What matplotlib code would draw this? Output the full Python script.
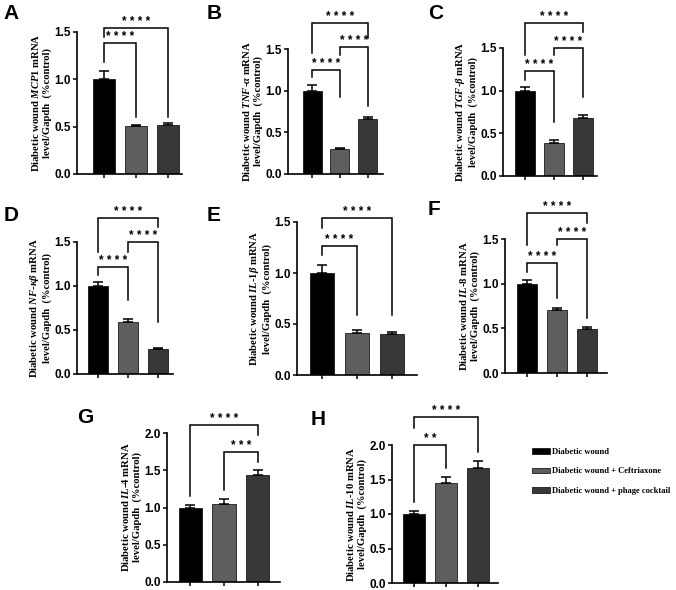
import matplotlib
matplotlib.use("Agg")
import matplotlib.pyplot as plt

# ─────────────────────────────────────────────
# Fuentes (Times bold para textos, Arial bold para numeros)
# ─────────────────────────────────────────────
plt.rcParams['font.family'] = 'Liberation Serif'
plt.rcParams['font.weight'] = 'bold'
plt.rcParams['axes.labelweight'] = 'bold'
plt.rcParams['mathtext.fontset'] = 'custom'
plt.rcParams['mathtext.rm'] = 'Liberation Serif:bold'
plt.rcParams['mathtext.it'] = 'Liberation Serif:italic:bold'
plt.rcParams['mathtext.bf'] = 'Liberation Serif:bold'

# ─────────────────────────────────────────────
# Datos
# ─────────────────────────────────────────────
grupos = ["Diabetic wound", "Diabetic wound + Ceftriaxone", "Diabetic wound + phage cocktail"]
colores = ["#000000", "#5e5e5e", "#383838"]

mcp1 = [1.00, 0.51, 0.52]
mcp1_err = [0.09, 0.01, 0.02]
tnf = [1.00, 0.30, 0.66]
tnf_err = [0.07, 0.01, 0.03]
tgf = [1.00, 0.39, 0.68]
tgf_err = [0.04, 0.03, 0.04]
nfkb = [1.00, 0.59, 0.28]
nfkb_err = [0.04, 0.03, 0.01]
il1b = [1.00, 0.41, 0.40]
il1b_err = [0.08, 0.03, 0.02]
il8 = [1.00, 0.71, 0.49]
il8_err = [0.04, 0.02, 0.02]
il4 = [1.00, 1.05, 1.44]
il4_err = [0.04, 0.06, 0.06]
il10 = [1.00, 1.45, 1.67]
il10_err = [0.05, 0.09, 0.10]

ticks_15 = [0.0, 0.5, 1.0, 1.5]
ticks_20 = [0.0, 0.5, 1.0, 1.5, 2.0]

# comparaciones: (barra i, barra j, altura, pie i, pie j, estrellas)
sig_mcp1 = [(0, 2, 1.54, 1.45, 0.60, "****"), (0, 1, 1.38, 1.18, 0.60, "****")]
sig_tnf = [(0, 2, 1.81, 1.45, 1.63, "****"), (1, 2, 1.52, 1.43, 0.82, "****"),
           (0, 1, 1.25, 1.17, 0.93, "****")]
sig_tgf = [(0, 2, 1.79, 1.42, 1.69, "****"), (1, 2, 1.50, 1.42, 0.93, "****"),
           (0, 1, 1.23, 1.13, 0.63, "****")]
sig_nfkb = [(0, 2, 1.77, 1.39, 1.67, "****"), (1, 2, 1.50, 1.39, 0.59, "****"),
            (0, 1, 1.22, 1.13, 0.84, "****")]
sig_il1b = [(0, 2, 1.54, 1.44, 0.59, "****"), (0, 1, 1.26, 1.18, 0.59, "****")]
sig_il8 = [(0, 2, 1.79, 1.43, 1.68, "****"), (1, 2, 1.50, 1.43, 0.62, "****"),
           (0, 1, 1.23, 1.13, 0.84, "****")]
sig_il4 = [(0, 2, 2.11, 1.15, 1.97, "****"), (1, 2, 1.75, 1.23, 1.61, "***")]
sig_il10 = [(0, 2, 2.41, 2.25, 1.90, "****"), (0, 1, 2.00, 1.17, 1.67, "**")]

etiquetas = {
    "A": "Diabetic wound $\\mathit{MCP1}$ mRNA\nlevel/Gapdh  (%control)",
    "B": "Diabetic wound $\\mathit{TNF}$-$\\mathit{\u03b1}$ mRNA\nlevel/Gapdh  (%control)",
    "C": "Diabetic wound $\\mathit{TGF}$-$\\mathit{\u03b2}$ mRNA\nlevel/Gapdh  (%control)",
    "D": "Diabetic wound $\\mathit{NF}$-$\\mathit{\u03ba\u03b2}$ mRNA\nlevel/Gapdh  (%control)",
    "E": "Diabetic wound $\\mathit{IL}$-$\\mathit{1\u03b2}$ mRNA\nlevel/Gapdh  (%control)",
    "F": "Diabetic wound $\\mathit{IL}$-$\\mathit{8}$ mRNA\nlevel/Gapdh  (%control)",
    "G": "Diabetic wound $\\mathit{IL}$-$\\mathit{4}$ mRNA\nlevel/Gapdh  (%control)",
    "H": "Diabetic wound $\\mathit{IL}$-$\\mathit{10}$ mRNA\nlevel/Gapdh  (%control)",
}

# ─────────────────────────────────────────────
# Layout en pixeles (izq, der, arriba, abajo), xlim, letra
# ─────────────────────────────────────────────
W, H = 676, 590
cajas = {
    "A": ((77, 182, 32, 174), (-0.84, 2.44), (3, 4)),
    "B": ((288, 383, 49, 174), (-0.86, 2.54), (207, 4)),
    "C": ((503, 597, 48, 176), (-0.76, 2.48), (428, 4)),
    "D": ((77, 173, 242, 374), (-0.70, 2.50), (4, 206)),
    "E": ((297, 417, 222, 375), (-0.71, 2.71), (207, 206)),
    "F": ((505, 607, 239, 373), (-0.73, 2.67), (428, 200)),
    "G": ((167, 280, 433, 582), (-0.68, 2.65), (77, 408)),
    "H": ((392, 498, 445, 583), (-0.69, 2.63), (311, 410)),
}


def graficar_panel(fig, letra, medias, errores, marcas, ticks):
    (izq, der, arriba, abajo), xlim, (lx, ly) = cajas[letra]
    ax = fig.add_axes([izq / W, 1 - abajo / H, (der - izq) / W, (abajo - arriba) / H])
    x = [0, 1, 2]
    barras = ax.bar(x, medias, width=0.68, color=colores, edgecolor="black", linewidth=0.5, zorder=2)
    ax.errorbar(x, medias, yerr=[[0, 0, 0], errores], fmt="none", ecolor="black",
                elinewidth=1.1, capsize=3.5, capthick=1.1, zorder=3)
    ax.set_xlim(xlim)
    ax.set_ylim(0, ticks[-1])
    ax.set_xticks(x, labels=["", "", ""])
    ax.set_yticks(ticks, labels=["%.1f" % t for t in ticks], fontfamily="Liberation Sans",
                  fontweight="bold", fontsize=8.5)
    ax.tick_params(direction="out", length=3, width=1.1, pad=1.5)
    for lado in ["top", "right"]:
        ax.spines[lado].set_visible(False)
    for lado in ["left", "bottom"]:
        ax.spines[lado].set_linewidth(1.2)
    ax.set_ylabel(etiquetas[letra], fontsize=7.7, fontweight="bold", labelpad=1.5, linespacing=1.25)

    for i, j, y, pie_i, pie_j, estrellas in marcas:
        ax.plot([i, i, j, j], [pie_i, y, y, pie_j], color="black", lw=1.1, clip_on=False,
                solid_joinstyle="miter")
        ax.text((i + j) / 2, y, " ".join(estrellas), ha="center", va="bottom", fontsize=8.5,
                fontfamily="Liberation Sans", fontweight="bold", clip_on=False)

    fig.text(lx / W, 1 - ly / H, letra, fontsize=15, fontweight="bold",
             fontfamily="Liberation Sans", ha="left", va="top")
    return barras


fig = plt.figure(figsize=(W / 100, H / 100), dpi=100)
graficar_panel(fig, "A", mcp1, mcp1_err, sig_mcp1, ticks_15)
graficar_panel(fig, "B", tnf, tnf_err, sig_tnf, ticks_15)
graficar_panel(fig, "C", tgf, tgf_err, sig_tgf, ticks_15)
graficar_panel(fig, "D", nfkb, nfkb_err, sig_nfkb, ticks_15)
graficar_panel(fig, "E", il1b, il1b_err, sig_il1b, ticks_15)
graficar_panel(fig, "F", il8, il8_err, sig_il8, ticks_15)
graficar_panel(fig, "G", il4, il4_err, sig_il4, ticks_20)
barras = graficar_panel(fig, "H", il10, il10_err, sig_il10, ticks_20)

fig.legend(barras.patches, grupos, loc="upper left", bbox_to_anchor=(532 / W, 1 - 448 / H),
           frameon=False, fontsize=6.1, handlelength=2.1, handleheight=0.65,
           labelspacing=1.35, handletextpad=0.3, borderpad=0, borderaxespad=0)

fig.savefig("out.png", dpi=100)
